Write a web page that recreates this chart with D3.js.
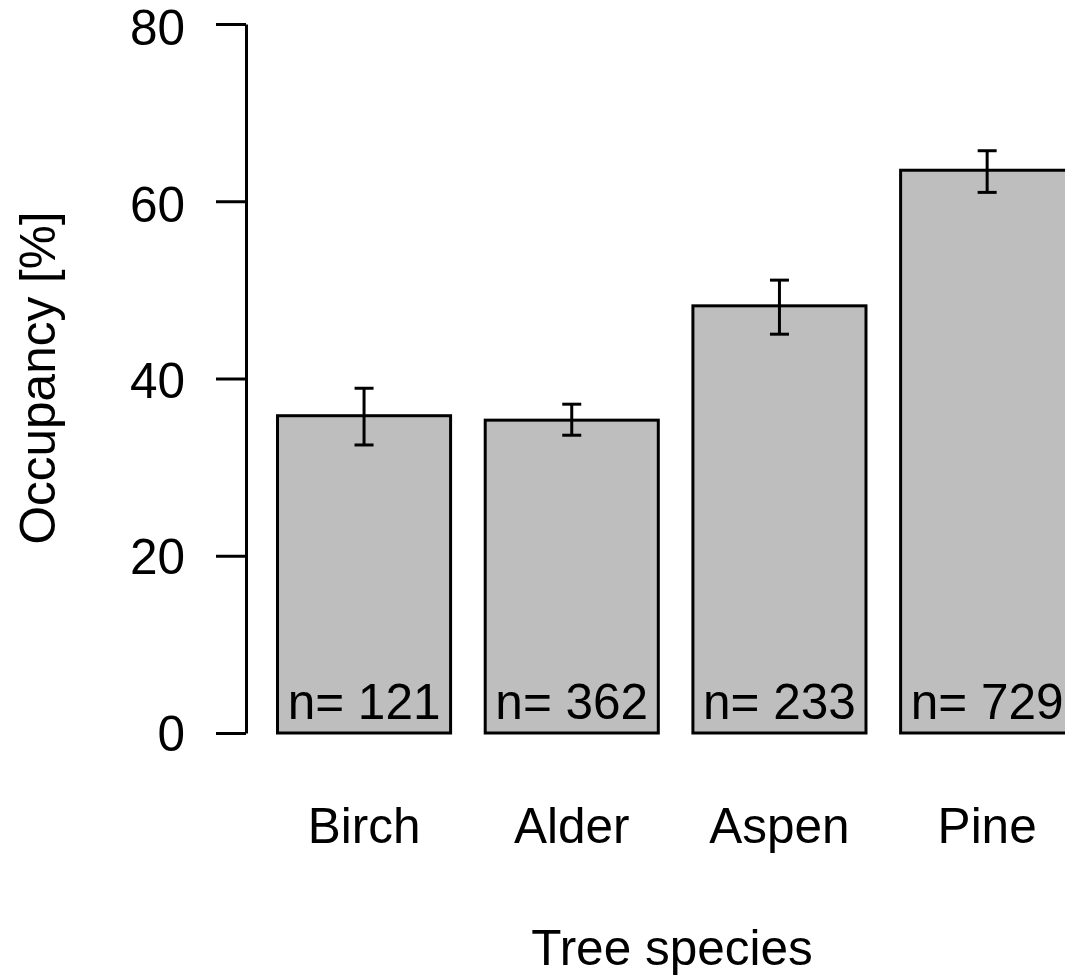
<!DOCTYPE html>
<html>
<head>
<meta charset="utf-8">
<script src="https://cdn.jsdelivr.net/npm/d3@7.9.0/dist/d3.min.js"></script>
<style>
  html, body { margin: 0; padding: 0; background: #fff; }
  svg { display: block; }
  text { font-family: "Liberation Sans", Arial, sans-serif; fill: #000; }
</style>
</head>
<body>
<svg id="chart" width="1065" height="976"></svg>
<script>
const species = ['Birch', 'Alder', 'Aspen', 'Pine'];
const occupancy = [35.8, 35.3, 48.2, 63.5];
const errLow = [32.5, 33.6, 45.0, 61.0];
const errHigh = [38.9, 37.1, 51.1, 65.7];
const sampleSize = [121, 362, 233, 729];
const yTicks = [0, 20, 40, 60, 80];

const svg = d3.select('#chart');
const fontSize = 49.5;

// bar positions (R barplot, space = 0.2), plot runs off the right edge
const x = d3.scaleBand()
  .domain(species)
  .range([260.2, 1091])
  .paddingInner(1 / 6)
  .paddingOuter(1 / 12);

const y = d3.scaleLinear().domain([0, 80]).range([733, 24]);

// bars
svg.append('g')
  .selectAll('rect')
  .data(species)
  .join('rect')
  .attr('x', d => x(d))
  .attr('y', (d, i) => y(occupancy[i]))
  .attr('width', x.bandwidth())
  .attr('height', (d, i) => y(0) - y(occupancy[i]))
  .attr('fill', '#bebebe')
  .attr('stroke', '#000')
  .attr('stroke-width', 3);

// error bars
const capHalf = 9.5;
const err = svg.append('g').attr('stroke', '#000').attr('stroke-width', 3);
species.forEach((s, i) => {
  const cx = x(s) + x.bandwidth() / 2;
  err.append('line')
    .attr('x1', cx).attr('x2', cx)
    .attr('y1', y(errLow[i])).attr('y2', y(errHigh[i]));
  [errLow[i], errHigh[i]].forEach(v => {
    err.append('line')
      .attr('x1', cx - capHalf).attr('x2', cx + capHalf)
      .attr('y1', y(v)).attr('y2', y(v));
  });
});

// sample size labels
svg.append('g')
  .selectAll('text')
  .data(species)
  .join('text')
  .attr('x', d => x(d) + x.bandwidth() / 2)
  .attr('y', 719)
  .attr('text-anchor', 'middle')
  .attr('font-size', fontSize)
  .text((d, i) => `n= ${sampleSize[i]}`);

// y axis
const yAxis = svg.append('g')
  .attr('transform', 'translate(246,0)')
  .call(d3.axisLeft(y).tickValues(yTicks).tickSize(30).tickSizeOuter(0).tickPadding(31));
yAxis.select('.domain').attr('stroke-width', 3);
yAxis.selectAll('.tick line').attr('stroke-width', 3);
yAxis.selectAll('.tick text')
  .attr('font-size', fontSize)
  .attr('font-family', '"Liberation Sans", Arial, sans-serif')
  .attr('fill', '#000')
  .attr('y', d => 1.5 + d * 0.04);

// category labels
svg.append('g')
  .selectAll('text')
  .data(species)
  .join('text')
  .attr('x', d => x(d) + x.bandwidth() / 2)
  .attr('y', 843)
  .attr('text-anchor', 'middle')
  .attr('font-size', fontSize)
  .text(d => d);

// axis titles
svg.append('text')
  .attr('x', 672)
  .attr('y', 965)
  .attr('text-anchor', 'middle')
  .attr('font-size', fontSize)
  .text('Tree species');

svg.append('text')
  .attr('transform', 'translate(55,378) rotate(-90)')
  .attr('text-anchor', 'middle')
  .attr('font-size', fontSize)
  .text('Occupancy [%]');
</script>
</body>
</html>
